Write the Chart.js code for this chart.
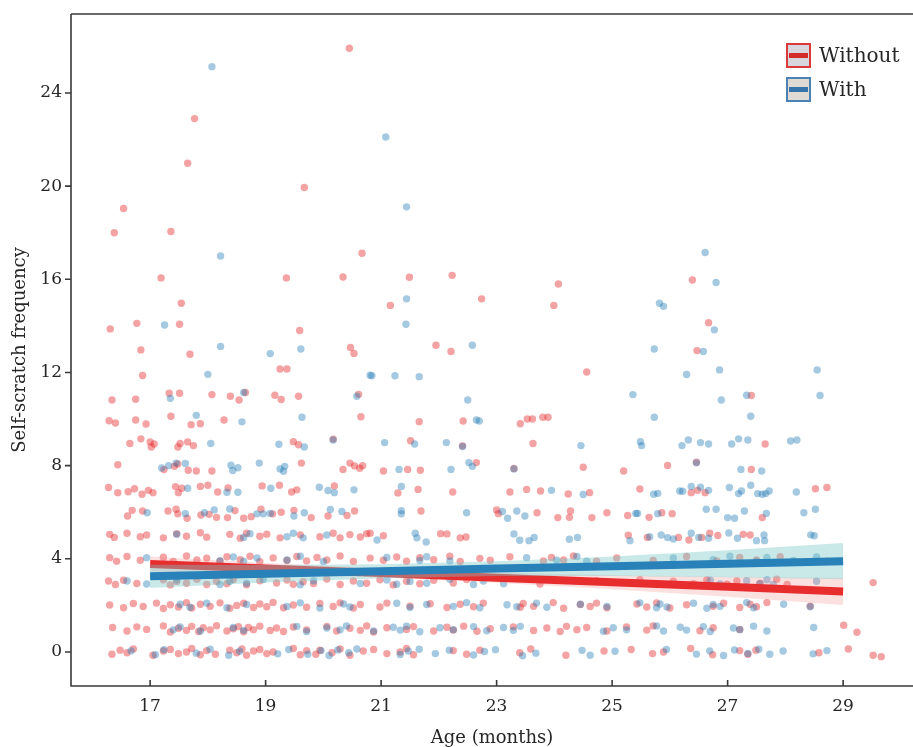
<!DOCTYPE html>
<html>
<head>
<meta charset="utf-8">
<script src="https://cdn.jsdelivr.net/npm/chart.js@4.4.1/dist/chart.umd.min.js"></script>
<style>
  html, body { margin: 0; padding: 0; background: #fff; overflow: hidden; }
  #wrap { width: 913px; height: 747px; overflow: hidden; }
</style>
</head>
<body>
<div id="wrap"><canvas id="myChart" width="913" height="760" style="width:913px;height:760px"></canvas></div>
<script>
const xTicks = [17, 19, 21, 23, 25, 27, 29];
const yTicks = [0, 4, 8, 12, 16, 20, 24];

// fitted lines + confidence band
const fitX = [17, 19, 21, 23, 25, 27, 29];
const withoutFit = [3.78, 3.58, 3.39, 3.19, 2.99, 2.80, 2.60];
const withoutUpper = [4.10, 3.82, 3.58, 3.41, 3.29, 3.23, 3.18];
const withoutLower = [3.46, 3.34, 3.20, 2.97, 2.69, 2.37, 2.02];
const withFit = [3.25, 3.36, 3.47, 3.58, 3.68, 3.79, 3.90];
const withUpper = [3.75, 3.74, 3.77, 3.90, 4.10, 4.37, 4.68];
const withLower = [2.75, 2.98, 3.17, 3.26, 3.26, 3.21, 3.12];

// Without (red) points [age, frequency]
const withoutPoints = [
  [20.45,25.92],[17.77,22.9],[17.65,20.98],[19.67,19.94],[16.54,19.04],[16.38,18.0],[17.36,18.05],[20.67,17.12],[17.19,16.06],[19.36,16.06],[20.34,16.1],[17.54,14.97],
  [21.49,16.09],[22.23,16.17],[22.74,15.16],[24.07,15.8],[21.16,14.88],[23.99,14.88],[26.39,15.97],[26.67,14.14],[26.47,12.94],[27.41,11.01],
  [16.31,13.87],[16.77,14.11],[17.51,14.07],[19.59,13.8],[16.84,12.97],[17.69,12.78],[20.47,13.07],[20.53,12.82],[19.25,12.15],[19.37,12.15],[16.87,11.87],
  [16.34,10.82],[16.75,10.85],[17.33,11.11],[17.51,11.11],[18.07,11.05],[18.39,10.98],[18.54,10.82],[18.65,11.14],[19.16,11.02],[19.27,10.84],[19.57,10.98],[20.61,11.06],
  [20.65,10.1],[16.29,9.93],[16.4,9.83],[16.75,9.96],[16.93,9.79],[17.36,10.12],[17.71,9.76],[17.87,9.8],[18.28,9.96],
  [16.65,8.95],[16.84,9.15],[17.0,9.02],[17.07,8.93],[17.02,8.8],[17.52,8.95],[17.48,8.8],[17.65,9.02],[17.75,8.86],[19.48,9.03],[19.57,8.9],[20.17,9.14],
  [16.44,8.04],[17.24,7.83],[17.42,7.97],[17.48,8.07],[17.66,7.8],[17.8,7.77],[18.07,7.77],[19.62,8.11],[20.34,7.84],[20.46,8.11],[20.54,7.99],[20.63,7.89],[20.68,8.0],
  [16.28,7.06],[16.44,6.84],[16.62,6.88],[16.73,7.01],[16.86,6.77],[16.97,6.94],[17.05,6.84],[17.44,7.1],[17.49,6.84],[17.55,7.03],[17.87,7.11],[18.0,7.16],[18.17,6.87],[18.35,7.04],[18.94,7.13],[19.24,7.16],[19.45,6.87],[19.54,6.96],[20.19,7.13],
  [16.61,5.84],[16.69,6.08],[16.87,6.05],[17.31,6.05],[17.45,6.13],[17.48,5.93],[17.64,5.74],[17.88,5.88],[18.02,5.91],[18.15,5.78],[18.34,5.77],[18.47,6.07],[18.62,5.74],[18.75,5.81],[18.92,6.13],[19.12,5.93],[19.27,6.0],[19.49,6.08],[19.79,5.77],[20.08,5.84],[20.41,5.86],[20.54,6.05],
  [21.95,13.17],[22.21,12.9],[24.56,12.02],[21.66,9.89],[22.42,9.92],[23.41,9.8],[23.53,10.0],[23.62,10.0],[23.8,10.08],[23.89,10.08],[21.51,9.07],[23.63,8.95],[22.41,8.85],
  [21.04,7.77],[21.46,7.84],[21.68,7.8],[22.65,8.13],[23.3,7.88],[24.5,7.93],[25.2,7.77],[25.96,8.01],
  [21.29,6.83],[21.64,6.98],[22.24,6.87],[23.23,6.87],[23.52,6.98],[23.76,6.91],[24.24,6.78],[24.61,6.84],[25.48,7.0],
  [21.69,6.05],[23.0,6.1],[23.03,5.94],[23.7,5.98],[24.06,5.77],[24.26,5.78],[24.28,6.05],[24.65,5.77],[24.91,5.98],[25.27,5.86],[25.64,5.78],[25.86,5.98],
  [27.65,8.93],[27.41,7.84],[26.46,8.15],[26.37,6.84],[26.48,6.94],[26.61,6.84],[28.52,7.01],[28.72,7.06],[26.04,5.94],[27.6,5.77],
  // row 5
  [16.3,5.05],[16.38,4.92],[16.6,5.1],[16.83,4.95],[16.94,5.02],[17.23,4.9],[17.46,5.08],[17.63,4.97],[17.87,5.12],[17.98,4.93],[18.38,5.05],[18.56,4.88],[18.67,5.1],[18.9,4.97],[19.02,5.06],[19.25,4.9],[19.6,5.03],[19.94,4.95],[20.17,5.1],[20.29,4.9],[20.46,5.04],[20.64,4.94],[20.75,5.08],
  [20.81,5.1],[21.04,4.99],[22.03,5.08],[22.14,5.07],[22.37,4.9],[22.47,4.94],[25.28,5.01],[25.61,4.92],[26.15,4.92],[26.33,4.81],[26.55,4.92],[26.69,5.1],[26.83,5.0],[27.27,5.05],[27.39,5.02],
  // row 4
  [16.3,4.05],[16.42,3.9],[16.6,4.1],[16.83,3.94],[17.23,4.07],[17.4,3.89],[17.63,4.12],[17.81,3.95],[17.98,4.03],[18.21,3.9],[18.33,4.09],[18.56,3.96],[18.73,4.11],[18.9,3.88],[19.13,4.04],[19.37,3.93],[19.54,4.1],[19.71,3.91],[19.89,4.06],[20.06,3.95],[20.29,4.12],[20.52,3.89],[20.81,4.03],[21.04,3.94],[21.27,4.08],[21.44,3.9],[21.67,4.05],[21.91,3.96],[22.19,4.11],[22.37,3.89],[22.71,4.02],[22.89,3.94],[23.23,4.09],[23.81,3.91],[23.95,4.06],[24.16,3.95],[24.33,4.12],[24.73,3.9],[25.08,4.04],[25.71,3.93],[26.29,4.1],[26.81,3.91],[27.21,4.06],[27.5,3.95],[27.91,4.09],[28.72,3.9],
  // row 3
  [16.28,3.05],[16.4,2.9],[16.54,3.08],[16.77,2.94],[17.23,3.1],[17.35,2.88],[17.46,3.03],[17.63,2.95],[17.81,3.12],[17.98,2.9],[18.15,3.04],[18.33,2.93],[18.44,3.11],[18.67,2.89],[18.9,3.06],[19.19,2.96],[19.37,3.09],[19.48,2.91],[19.65,3.02],[19.83,2.94],[20.06,3.13],[20.29,2.9],[20.52,3.05],[20.75,2.95],[20.98,3.1],[21.21,2.88],[21.44,3.04],[21.67,2.93],[21.91,3.08],[22.25,2.96],[22.48,3.11],[23.75,2.92],[24.73,3.06],[25.37,2.95],[25.48,3.1],[25.77,2.9],[26.06,3.04],[26.41,2.93],[26.64,3.09],[26.99,2.91],[27.16,3.05],[27.56,2.94],[27.85,3.12],[28.03,2.9],[29.52,2.98],
  // row 2
  [16.3,2.02],[16.54,1.9],[16.71,2.08],[16.88,1.95],[17.11,2.1],[17.23,1.87],[17.35,2.03],[17.49,1.93],[17.63,2.12],[17.72,1.89],[17.87,2.05],[18.04,1.96],[18.21,2.11],[18.38,1.88],[18.5,2.0],[18.62,2.09],[18.79,1.91],[18.9,2.06],[19.02,1.94],[19.13,2.13],[19.31,1.9],[19.48,2.02],[19.71,1.92],[19.94,2.08],[20.17,1.95],[20.29,2.11],[20.52,1.89],[20.64,2.04],[20.98,1.93],[21.1,2.1],[21.5,1.97],[21.85,2.07],[22.14,1.91],[22.37,2.05],[22.6,1.94],[22.77,2.1],[23.41,1.92],[23.46,2.08],[23.64,1.96],[23.98,2.12],[24.16,1.88],[24.45,2.04],[24.62,1.95],[24.73,2.1],[24.91,1.9],[25.43,2.06],[25.6,1.93],[25.77,2.11],[26.0,1.89],[26.29,2.03],[26.75,1.96],[26.93,2.09],[27.21,1.91],[27.39,2.05],[27.5,1.94],[27.68,2.12],[28.43,1.97],
  // row 1
  [16.35,1.05],[16.6,0.9],[16.77,1.08],[16.94,0.97],[17.23,1.12],[17.35,0.86],[17.49,1.02],[17.63,0.93],[17.72,1.1],[17.84,0.88],[17.92,1.04],[18.04,0.95],[18.15,1.13],[18.33,0.9],[18.44,1.0],[18.53,1.09],[18.62,0.87],[18.7,1.05],[18.79,0.96],[18.9,1.11],[19.08,0.92],[19.19,1.03],[19.31,0.88],[19.48,1.07],[19.71,0.95],[20.06,1.1],[20.23,0.9],[20.46,1.02],[20.64,0.93],[20.75,1.12],[20.87,0.86],[21.1,1.04],[21.44,0.97],[21.56,1.09],[21.91,0.9],[22.14,1.06],[22.25,0.94],[22.43,1.11],[22.66,0.89],[22.89,1.0],[23.29,1.08],[23.64,0.92],[23.87,1.03],[24.1,0.88],[24.21,1.1],[24.39,0.96],[24.56,1.05],[24.91,0.9],[25.25,1.07],[25.6,0.94],[25.71,1.12],[26.52,0.91],[26.75,1.04],[27.21,0.97],[29.01,1.15],[29.24,0.85],
  // row 0
  [16.34,-0.1],[16.48,0.08],[16.6,-0.03],[16.71,0.13],[17.05,-0.14],[17.23,0.04],[17.35,0.11],[17.49,-0.07],[17.63,0.0],[17.72,0.15],[17.87,-0.12],[17.98,0.06],[18.13,-0.1],[18.38,0.08],[18.5,-0.03],[18.59,0.13],[18.67,-0.14],[18.79,0.04],[18.9,0.11],[19.02,-0.07],[19.13,0.0],[19.48,0.15],[19.6,-0.12],[19.71,0.06],[19.87,-0.1],[19.94,0.08],[20.15,-0.03],[20.29,0.13],[20.46,-0.14],[20.69,0.04],[20.87,0.11],[21.1,-0.07],[21.33,0.0],[21.44,0.15],[21.56,-0.12],[22.25,0.06],[22.48,-0.1],[22.71,0.08],[23.4,-0.03],[23.59,0.13],[24.2,-0.14],[24.86,0.04],[25.33,0.11],[25.7,-0.07],[25.89,0.0],[26.36,0.15],[26.74,-0.12],[27.21,0.06],[27.35,-0.1],[27.49,0.08],[28.58,-0.03],[29.09,0.13],[29.52,-0.14],[29.66,-0.2]
];

// With (blue) points [age, frequency]
const withPoints = [
  [18.07,25.13],[18.22,17.0],[21.08,22.11],[21.44,19.11],[21.44,15.16],[25.82,14.97],[25.89,14.84],[26.61,17.15],[26.8,15.86],[26.77,13.83],[25.73,13.01],[26.58,12.9],[26.29,11.91],[26.86,12.11],[28.55,12.11],[26.89,10.82],[27.33,11.02],[28.6,11.01],[25.36,11.05],[25.73,10.08],[27.4,10.12],
  [17.25,14.04],[18.22,13.12],[19.08,12.81],[19.61,13.01],[18.0,11.92],[20.81,11.88],[17.35,10.89],[18.62,11.14],[20.58,10.98],[17.8,10.16],[18.59,9.88],[19.63,10.08],[18.05,8.95],[19.23,8.92],[19.67,8.8],[20.17,9.1],
  [17.2,7.9],[17.32,8.0],[17.45,8.11],[17.61,8.09],[18.4,8.02],[18.43,7.79],[18.52,7.91],[18.89,8.11],[19.25,7.86],[19.31,7.76],[19.33,7.97],
  [17.65,7.03],[18.33,6.86],[18.52,6.86],[19.09,7.03],[19.93,7.07],[20.08,6.93],[20.19,6.84],[20.53,6.96],
  [16.95,5.98],[17.61,5.94],[17.94,5.98],[18.11,6.1],[18.38,6.14],[18.85,5.93],[18.96,5.93],[19.08,5.95],[19.49,5.84],[19.67,5.98],[20.12,6.12],[20.32,6.03],
  [21.43,14.07],[22.58,13.17],[20.84,11.86],[21.24,11.86],[21.66,11.82],[22.5,10.82],[22.65,9.96],[22.7,9.92],[21.06,8.99],[21.58,8.93],[22.13,8.99],[22.41,8.82],[24.46,8.86],[25.49,9.03],[25.51,8.86],
  [21.31,7.84],[22.21,7.84],[22.52,8.13],[22.58,7.97],[23.3,7.86],[21.35,7.11],[23.95,6.94],[24.5,6.76],[25.72,6.77],[25.79,6.81],
  [21.35,6.07],[21.35,5.93],[22.48,5.98],[23.1,6.03],[23.19,5.74],[23.35,6.05],[23.49,5.84],[25.41,5.95],[25.44,5.95],[25.79,5.94],
  [26.21,8.86],[26.32,9.1],[26.53,8.99],[26.67,8.93],[27.07,8.93],[27.19,9.15],[27.35,9.1],[28.09,9.06],[28.2,9.1],[26.46,8.12],[27.23,7.84],[27.59,7.77],
  [26.17,6.91],[26.22,6.9],[26.37,7.11],[26.53,7.08],[26.67,6.94],[27.03,7.06],[27.19,6.8],[27.24,6.91],[27.4,7.16],[27.52,6.8],[27.6,6.77],[27.66,6.8],[27.72,6.91],[28.19,6.87],
  [26.63,6.13],[26.8,6.13],[27.0,5.77],[27.12,5.74],[27.29,6.05],[27.67,5.95],[28.32,5.98],[28.52,6.13],
  // row 5
  [17.46,5.05],[18.62,4.92],[18.73,5.08],[19.37,4.95],[19.48,5.1],[19.65,4.9],[20.06,5.02],[20.93,4.81],[21.59,5.1],[21.62,4.9],[21.78,4.72],[23.3,5.07],[23.4,4.8],[23.56,4.78],[23.65,4.92],[24.26,4.84],[24.4,4.92],[25.31,4.78],[25.65,4.95],[25.85,5.02],[25.96,4.91],[26.06,4.85],[26.37,5.1],[26.5,4.92],[26.67,4.88],[27.02,5.11],[27.17,4.88],[27.5,4.78],[27.63,5.02],[27.64,4.78],[28.44,5.03],[28.5,4.99],
  // row 4
  [16.94,4.05],[18.21,3.92],[18.44,4.08],[18.62,3.9],[18.85,4.04],[19.37,3.95],[19.6,4.11],[20.0,3.89],[21.1,4.06],[21.67,3.93],[21.79,4.09],[22.19,3.91],[23.52,4.05],[24.04,3.94],[24.39,4.1],[24.56,3.9],[26.06,4.04],[26.75,3.96],[27.04,4.11],[27.5,3.89],[27.68,4.06],[28.14,3.93],[28.54,4.08],
  // row 3
  [16.6,3.05],[16.94,2.92],[17.46,3.1],[18.21,2.9],[18.38,3.04],[18.67,2.95],[18.96,3.11],[19.6,2.89],[19.83,3.06],[20.64,2.94],[21.1,3.09],[21.27,2.91],[21.5,3.03],[21.79,2.95],[22.19,3.12],[22.6,2.9],[22.77,3.05],[23.12,2.93],[26.7,3.08],[26.87,2.92],[27.33,3.06],[27.56,2.94],[27.68,3.1],[27.79,2.9],[28.54,3.04],
  // row 2
  [17.52,2.05],[17.69,1.92],[17.98,2.1],[18.33,1.9],[18.67,2.04],[19.37,1.95],[19.6,2.11],[19.94,1.89],[20.35,2.06],[20.46,1.93],[21.27,2.09],[21.5,1.91],[21.79,2.04],[22.25,1.96],[22.48,2.12],[22.71,1.9],[23.18,2.03],[23.35,1.94],[23.69,2.1],[23.87,1.92],[24.45,2.05],[24.91,1.95],[25.48,2.11],[25.77,1.9],[25.83,2.06],[25.95,1.93],[26.41,2.09],[26.64,1.88],[26.75,2.04],[26.87,1.96],[27.33,2.12],[27.45,1.9],[27.97,2.05],[28.43,1.94],
  // row 1
  [17.4,0.95],[17.52,1.08],[17.87,0.9],[18.44,1.05],[18.62,0.93],[19.54,1.1],[19.71,0.88],[20.06,1.03],[20.29,0.95],[20.4,1.12],[20.87,0.9],[21.21,1.06],[21.33,0.94],[21.44,1.11],[21.67,0.87],[22.02,1.04],[22.25,0.96],[22.6,1.09],[22.83,0.91],[23.12,1.05],[23.29,0.93],[23.41,1.1],[24.85,0.89],[25.02,1.04],[25.25,0.95],[25.77,1.12],[25.89,0.9],[26.18,1.06],[26.29,0.94],[26.58,1.09],[26.7,0.88],[27.1,1.03],[27.21,0.96],[27.45,1.11],[27.68,0.9],[28.49,1.05],
  // row 0
  [16.67,0.05],[17.09,-0.12],[17.24,0.1],[17.8,-0.05],[18.04,0.12],[18.36,-0.14],[18.55,0.03],[19.21,-0.08],[19.4,0.11],[19.73,-0.1],[19.96,0.06],[20.1,-0.15],[20.25,0.09],[20.44,-0.03],[20.58,0.13],[21.33,-0.11],[21.47,0.04],[21.66,0.12],[21.94,-0.07],[22.18,0.08],[22.6,-0.13],[22.79,0.02],[22.98,0.1],[23.45,-0.16],[23.68,-0.05],[24.48,0.07],[24.62,-0.14],[25.05,0.03],[25.94,0.11],[26.46,-0.09],[26.69,0.05],[26.93,-0.15],[27.12,0.09],[27.35,-0.06],[27.54,0.12],[27.73,-0.1],[27.96,0.04],[28.48,-0.08],[28.72,0.06]
];

const legendItems = [
  { label: 'Without', fill: '#d9d7de', edge: '#db3a3a', bar: '#d42a2a' },
  { label: 'With', fill: '#e0dad4', edge: '#4a82b3', bar: '#3673a8' }
];

const serif = "'DejaVu Serif', serif";
const ink = '#262626';

function toXY(xs, ys) { return xs.map((v, i) => ({ x: v, y: ys[i] })); }
function toPts(arr) { return arr.map(p => ({ x: p[0], y: p[1] })); }

// axes, ticks, top border and legend drawn by hand
const framePlugin = {
  id: 'framePlugin',
  afterDraw(chart) {
    const { ctx, chartArea: a, scales } = chart;
    ctx.save();
    ctx.strokeStyle = '#3a3a3a';
    ctx.lineWidth = 1.6;
    ctx.beginPath();
    ctx.moveTo(a.left, a.top); ctx.lineTo(a.right, a.top);
    ctx.moveTo(a.left, a.top); ctx.lineTo(a.left, a.bottom); ctx.lineTo(a.right, a.bottom);
    xTicks.forEach(v => {
      const px = scales.x.getPixelForValue(v);
      ctx.moveTo(px, a.bottom); ctx.lineTo(px, a.bottom - 6);
    });
    yTicks.forEach(v => {
      const py = scales.y.getPixelForValue(v);
      ctx.moveTo(a.left, py); ctx.lineTo(a.left - 6, py);
    });
    ctx.stroke();

    // legend
    const bx = a.right - 126;
    legendItems.forEach((it, i) => {
      const by = a.top + 30 + i * 34;
      ctx.fillStyle = it.fill;
      ctx.fillRect(bx, by, 23, 23);
      ctx.strokeStyle = it.edge;
      ctx.lineWidth = 2;
      ctx.strokeRect(bx, by, 23, 23);
      ctx.fillStyle = it.bar;
      ctx.fillRect(bx + 2, by + 9, 19, 5);
      ctx.fillStyle = ink;
      ctx.font = '20px ' + serif;
      ctx.textBaseline = 'middle';
      ctx.textAlign = 'left';
      ctx.fillText(it.label, bx + 32, by + 13);
    });
    ctx.restore();
  }
};

const ctx = document.getElementById('myChart');

// draw order: points, red band, red line, blue band, blue line
new Chart(ctx, {
  type: 'scatter',
  data: {
    datasets: [
      {
        label: 'With fit',
        data: toXY(fitX, withFit),
        showLine: true,
        borderColor: 'rgb(40,129,184)',
        borderWidth: 8,
        pointRadius: 0,
        fill: false,
        order: 0
      },
      {
        label: 'With upper',
        data: toXY(fitX, withUpper),
        showLine: true,
        borderWidth: 0,
        pointRadius: 0,
        fill: '+1',
        backgroundColor: 'rgba(120,200,200,0.4)',
        order: 1
      },
      {
        label: 'With lower',
        data: toXY(fitX, withLower),
        showLine: true,
        borderWidth: 0,
        pointRadius: 0,
        fill: false,
        order: 1
      },
      {
        label: 'Without fit',
        data: toXY(fitX, withoutFit),
        showLine: true,
        borderColor: 'rgb(232,45,47)',
        borderWidth: 8,
        pointRadius: 0,
        fill: false,
        order: 2
      },
      {
        label: 'Without upper',
        data: toXY(fitX, withoutUpper),
        showLine: true,
        borderWidth: 0,
        pointRadius: 0,
        fill: '+1',
        backgroundColor: 'rgba(240,130,130,0.25)',
        order: 3
      },
      {
        label: 'Without lower',
        data: toXY(fitX, withoutLower),
        showLine: true,
        borderWidth: 0,
        pointRadius: 0,
        fill: false,
        order: 3
      },
      {
        label: 'With',
        data: toPts(withPoints),
        backgroundColor: 'rgba(31,120,180,0.4)',
        borderWidth: 0,
        pointRadius: 3.7,
        order: 4
      },
      {
        label: 'Without',
        data: toPts(withoutPoints),
        backgroundColor: 'rgba(228,26,28,0.4)',
        borderWidth: 0,
        pointRadius: 3.7,
        order: 5
      }
    ]
  },
  options: {
    responsive: false,
    animation: false,
    layout: { autoPadding: false, padding: { top: 14, right: 0, left: 0, bottom: 0 } },
    scales: {
      x: {
        type: 'linear',
        min: 15.63,
        max: 30.21,
        afterBuildTicks: s => { s.ticks = xTicks.map(v => ({ value: v })); },
        afterFit: s => { s.height = 74; s.paddingLeft = 0; s.paddingRight = 0; },
        grid: { display: false, drawTicks: false },
        border: { display: false },
        ticks: { color: ink, font: { family: serif, size: 17 }, padding: 10, maxRotation: 0, autoSkip: false },
        title: { display: true, text: 'Age (months)', color: ink, font: { family: serif, size: 18 }, padding: { top: 0, bottom: 11 } }
      },
      y: {
        type: 'linear',
        min: -1.46,
        max: 27.39,
        afterBuildTicks: s => { s.ticks = yTicks.map(v => ({ value: v })); },
        afterFit: s => { s.width = 71; s.paddingTop = 0; s.paddingBottom = 0; },
        grid: { display: false, drawTicks: false },
        border: { display: false },
        ticks: { color: ink, font: { family: serif, size: 17 }, padding: 9, autoSkip: false },
        title: { display: true, text: 'Self-scratch frequency', color: ink, font: { family: serif, size: 18 }, padding: { top: 10, bottom: 0 } }
      }
    },
    plugins: {
      legend: { display: false },
      tooltip: { enabled: false }
    }
  },
  plugins: [framePlugin]
});
</script>
</body>
</html>
